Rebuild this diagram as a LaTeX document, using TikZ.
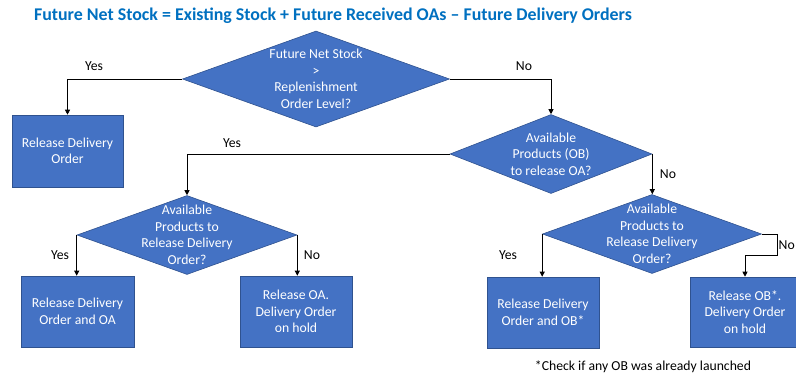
\documentclass[tikz,border=0pt]{standalone}
\usepackage{fontspec}
\setmainfont{Carlito}
\usetikzlibrary{shapes.geometric,arrows.meta}
\definecolor{boxblue}{HTML}{4472C4}
\definecolor{boxedge}{HTML}{2F528F}
\definecolor{titleblue}{HTML}{0070C0}
\begin{document}
\begin{tikzpicture}[x=1pt,y=-1pt,
  body/.style={font=\fontsize{13.7}{16.5}\selectfont},
  decision/.style={diamond,draw=boxedge,line width=0.6pt,fill=boxblue,inner sep=0pt},
  dtext/.style={body,text=white,align=center,inner sep=0pt},
  action/.style={rectangle,draw=boxedge,line width=0.6pt,fill=boxblue,text=white,
    align=center,inner sep=0pt,body},
  answer/.style={body,text=black,inner sep=0pt},
  flow/.style={draw=black,line width=0.8pt,-{Triangle[length=5pt,width=5pt]}}]
\path[use as bounding box,clip] (0,0) rectangle (796,376);

% heading
\node[font=\fontsize{17.9}{20}\selectfont\bfseries,text=titleblue,inner sep=0pt] (title) at (333,16)
  {Future Net Stock = Existing Stock + Future Received OAs – Future Delivery Orders};

% decisions
\node[decision,minimum width=267pt,minimum height=96pt] (d1) at (316,79) {};
\node[dtext] at (d1) {Future Net Stock\\>\\Replenishment\\Order Level?};
\node[decision,minimum width=202pt,minimum height=79pt] (d2) at (551,154) {};
\node[dtext] at (d2) {Available\\Products (OB)\\to release OA?};
\node[decision,minimum width=220pt,minimum height=79pt] (d3) at (187,235) {};
\node[dtext] at (d3) {Available\\Products to\\Release Delivery\\Order?};
\node[decision,minimum width=219pt,minimum height=79pt] (d4) at (652,234) {};
\node[dtext] at (d4) {Available\\Products to\\Release Delivery\\Order?};

% outcomes
\node[action,minimum width=111pt,minimum height=72pt] (b1) at (67.5,151) {Release Delivery\\Order};
\node[action,minimum width=113pt,minimum height=71pt] (b3) at (77.5,311.5) {Release Delivery\\Order and OA};
\node[action,minimum width=112pt,minimum height=71pt] (b4) at (296,311.5) {Release OA.\\Delivery Order\\on hold};
\node[action,minimum width=112pt,minimum height=71pt] (b5) at (543,312.5) {Release Delivery\\Order and OB*};
\node[action,minimum width=110pt,minimum height=70pt] (b6) at (745,312) {Release OB*.\\Delivery Order\\on hold};

% connectors
\draw[flow] (d1.west) -| (b1.north);
\draw[flow] (d1.east) -| (d2.north);
\draw[flow] (d2.west) -| (d3.north);
\draw[flow] (d2.east) -- (d2.east |- d4.north);
\draw[flow] (d3.west) -- (d3.west |- b3.north);
\draw[flow] (d3.east) -- (d3.east |- b4.north);
\draw[flow] (d4.west) -- (d4.west |- b5.north);
\coordinate (bend) at (777,255);
\draw[flow] (d4.east) -| (bend) -| (b6.north);

% branch labels
\node[answer] (y1) at (94,66) {Yes};
\node[answer] (n1) at (524,66) {No};
\node[answer] (y2) at (232,143) {Yes};
\node[answer] (n2) at (668,174) {No};
\node[answer] (y3) at (60,255) {Yes};
\node[answer] (n3) at (312,255) {No};
\node[answer] (y4) at (508,255) {Yes};
\node[answer,anchor=east] (n4) at (795,245) {No};

% footnote
\node[answer] (note) at (643,367) {*Check if any OB was already launched};
\end{tikzpicture}
\end{document}
